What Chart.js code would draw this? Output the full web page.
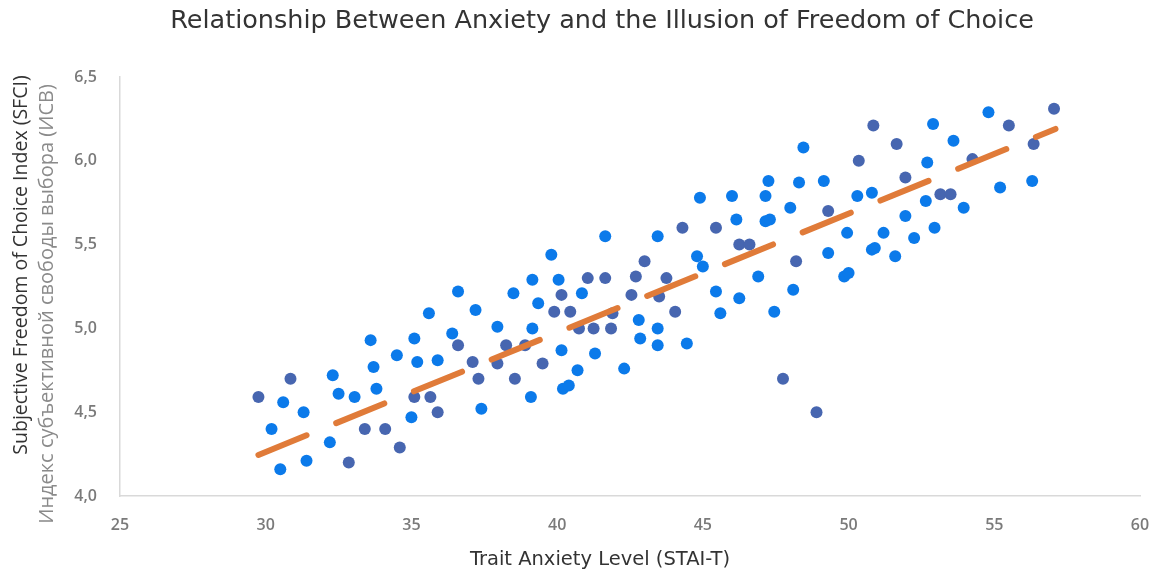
<!DOCTYPE html>
<html>
<head>
<meta charset="utf-8">
<title>Anxiety and Freedom of Choice</title>
<script src="https://cdn.jsdelivr.net/npm/chart.js@4.4.1/dist/chart.umd.min.js"></script>
<style>
  html, body { margin: 0; padding: 0; background: #ffffff; }
  #wrap { width: 1157px; height: 573px; }
</style>
</head>
<body>
<div id="wrap"><canvas id="chart" width="1157" height="573"></canvas></div>
<script>
// Participants, group A: trait anxiety (STAI-T) and freedom-of-choice index
const groupA_x = [36.6, 37.2, 35.6, 33.6, 35.1, 36.4, 34.5, 33.7, 35.2, 35.9,
  32.3, 30.6, 32.5, 33.05, 33.8, 31.3, 37.4, 30.2, 35.0, 32.2,
  31.4, 30.5, 41.65, 39.8, 39.15, 40.05, 38.5, 39.35, 40.85, 37.95,
  39.15, 42.8, 42.85, 40.15, 41.3, 40.7, 42.3, 39.1, 40.2, 40.4,
  48.45, 47.25, 48.3, 49.15, 44.9, 46.0, 47.15, 48.0, 46.15, 47.15,
  47.3, 43.45, 49.95, 44.8, 45.0, 49.3, 46.9, 49.85, 50.0, 45.45,
  46.25, 48.1, 45.6, 47.45, 43.45, 43.45, 44.45, 54.8, 52.9, 53.6,
  52.7, 55.2, 56.3, 50.3, 50.8, 52.65, 53.95, 51.95, 51.2, 52.25,
  52.95, 50.8, 50.9, 51.6];
const groupA_y = [5.22, 5.11, 5.09, 4.93, 4.94, 4.97, 4.84, 4.77, 4.80, 4.81,
  4.72, 4.56, 4.61, 4.59, 4.64, 4.50, 4.52, 4.40, 4.47, 4.32,
  4.21, 4.16, 5.55, 5.44, 5.29, 5.29, 5.21, 5.15, 5.21, 5.01,
  5.00, 5.05, 4.94, 4.87, 4.85, 4.75, 4.76, 4.59, 4.64, 4.66,
  6.08, 5.88, 5.87, 5.88, 5.78, 5.79, 5.79, 5.72, 5.65, 5.64,
  5.65, 5.55, 5.57, 5.43, 5.37, 5.45, 5.31, 5.31, 5.33, 5.22,
  5.18, 5.23, 5.09, 5.10, 5.00, 4.90, 4.91, 6.29, 6.22, 6.12,
  5.99, 5.84, 5.88, 5.79, 5.81, 5.76, 5.72, 5.67, 5.57, 5.54,
  5.60, 5.47, 5.48, 5.43];

// Participants, group B
const groupB_x = [36.6, 37.1, 30.85, 37.3, 29.75, 35.1, 35.65, 35.9, 33.4, 34.1,
  34.6, 32.85, 43.0, 41.05, 41.65, 42.7, 40.15, 42.55, 39.9, 40.45,
  41.9, 40.75, 41.25, 41.85, 38.25, 38.9, 37.95, 39.5, 38.55, 49.3,
  44.3, 45.45, 46.25, 46.6, 48.2, 43.75, 43.5, 44.05, 47.75, 48.9,
  57.05, 50.85, 55.5, 51.65, 56.35, 50.35, 54.25, 51.95, 53.15, 53.5];
const groupB_y = [4.90, 4.80, 4.70, 4.70, 4.59, 4.59, 4.59, 4.50, 4.40, 4.40,
  4.29, 4.20, 5.40, 5.30, 5.30, 5.31, 5.20, 5.20, 5.10, 5.10,
  5.09, 5.00, 5.00, 5.00, 4.90, 4.90, 4.79, 4.79, 4.70, 5.70,
  5.60, 5.60, 5.50, 5.50, 5.40, 5.30, 5.19, 5.10, 4.70, 4.50,
  6.31, 6.21, 6.21, 6.10, 6.10, 6.00, 6.01, 5.90, 5.80, 5.80];

// Linear trend endpoints
const trend_x = [29.75, 57.1];
const trend_y = [4.245, 6.19];

// Axis settings
const xMin = 25, xMax = 60, xStep = 5;
const yMin = 4.0, yMax = 6.5, yStep = 0.5;

const titleText = 'Relationship Between Anxiety and the Illusion of Freedom of Choice';
const xTitle = 'Trait Anxiety Level (STAI-T)';
const yTitleLines = ['Subjective Freedom of Choice Index (SFCI)', 'Индекс субъективной свободы выбора (ИСВ)'];

const zip = (xs, ys) => xs.map((x, i) => ({ x: x, y: ys[i] }));

// Chart title, axis title and the two-line rotated vertical-axis title
const labelsPlugin = {
  id: 'labels',
  afterDraw(chart) {
    const ctx = chart.ctx;
    const items = [
      { text: titleText, x: 602, y: 21, rot: 0, font: '25.5px "DejaVu Sans"', color: '#333333' },
      { text: xTitle, x: 600, y: 560, rot: 0, font: '19.5px "DejaVu Sans"', color: '#333333' },
      { text: yTitleLines[0], x: 21, y: 265, rot: -Math.PI / 2, font: '19.5px "Open Sans"', color: '#333333' },
      { text: yTitleLines[1], x: 47, y: 304, rot: -Math.PI / 2, font: '20px "Open Sans"', color: '#8a8a8a' }
    ];
    items.forEach(l => {
      ctx.save();
      ctx.translate(l.x, l.y);
      ctx.rotate(l.rot);
      ctx.font = l.font;
      ctx.fillStyle = l.color;
      ctx.textAlign = 'center';
      ctx.textBaseline = 'middle';
      ctx.fillText(l.text, 0, 0);
      ctx.restore();
    });
  }
};

new Chart(document.getElementById('chart'), {
  type: 'scatter',
  data: {
    datasets: [
      {
        label: 'Trend',
        type: 'line',
        data: zip(trend_x, trend_y),
        borderColor: '#e07b39',
        borderWidth: 6,
        borderDash: [52, 32],
        borderCapStyle: 'round',
        pointRadius: 0,
        fill: false,
        order: 0
      },
      {
        label: 'Group A',
        data: zip(groupA_x, groupA_y),
        backgroundColor: '#0b7aea',
        borderColor: '#0b7aea',
        borderWidth: 0,
        pointRadius: 6,
        order: 1
      },
      {
        label: 'Group B',
        data: zip(groupB_x, groupB_y),
        backgroundColor: '#4766b0',
        borderColor: '#4766b0',
        borderWidth: 0,
        pointRadius: 6,
        order: 2
      }
    ]
  },
  options: {
    responsive: false,
    animation: false,
    devicePixelRatio: 1,
    layout: { padding: { left: 0, right: 17, top: 77, bottom: 0 } },
    plugins: {
      legend: { display: false },
      tooltip: { enabled: false },
      title: { display: false }
    },
    scales: {
      x: {
        type: 'linear',
        min: xMin, max: xMax,
        grid: { display: false, drawTicks: false },
        border: { display: true, color: '#d9d9d9', width: 1.5 },
        ticks: {
          stepSize: xStep,
          color: '#7a7a7a',
          padding: 20,
          font: { family: '"Open Sans"', size: 16, weight: '600' }
        },
        afterFit(s) { s.height = 77; s.paddingLeft = 0; s.paddingRight = 0; }
      },
      y: {
        type: 'linear',
        min: yMin, max: yMax,
        grid: { display: false, drawTicks: false },
        border: { display: true, color: '#d9d9d9', width: 1.5 },
        ticks: {
          stepSize: yStep,
          color: '#7a7a7a',
          padding: 23,
          font: { family: '"Open Sans"', size: 16, weight: '600' },
          callback: v => v.toFixed(1).replace('.', ',')
        },
        afterFit(s) { s.width = 120; s.paddingTop = 0; s.paddingBottom = 0; }
      }
    }
  },
  plugins: [labelsPlugin]
});
</script>
</body>
</html>
